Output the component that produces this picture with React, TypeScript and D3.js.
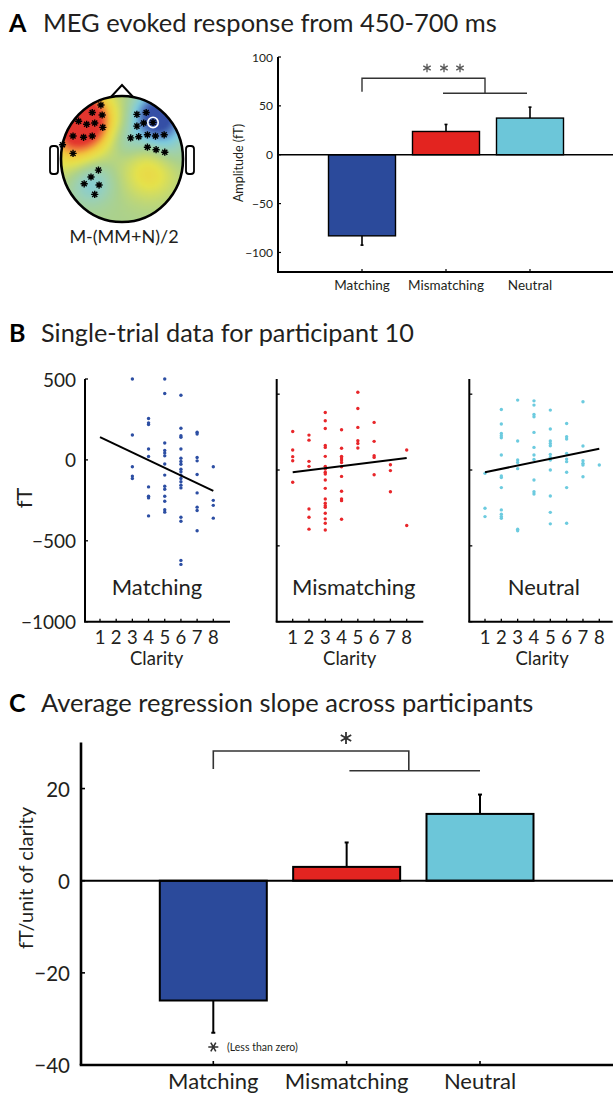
import React from 'react';
import * as d3 from 'd3';

// ---- shared categories and colours ----
const conditions = ['Matching', 'Mismatching', 'Neutral'];
const barColors = ['#2b4a9b', '#e32420', '#6cc6d9'];
const dotColors = ['#2c4ea3', '#e8262a', '#6ccbdf'];

// ---- panel A: evoked amplitude, 450-700 ms (fT) ----
const ampMean = [-83, 23.8, 37.5];
const ampErr = [9.5, 7.2, 11.2];
const ampTicks = [-100, -50, 0, 50, 100];

// sensor locations on the scalp map, in head-radius units (x right, y down)
const sensors: [number, number][] = [
  [-0.34, -0.87], [-0.48, -0.75], [-0.32, -0.71], [-0.7, -0.61], [-0.57, -0.56],
  [-0.44, -0.58], [-0.31, -0.51], [-0.79, -0.37], [-0.62, -0.35], [-0.48, -0.37],
  [-0.96, -0.23], [-0.79, -0.09],
  [0.24, -0.72], [0.39, -0.75], [0.24, -0.53], [0.35, -0.58], [0.5, -0.59],
  [0.14, -0.34], [0.27, -0.36], [0.41, -0.39], [0.54, -0.37], [0.68, -0.39],
  [0.41, -0.19], [0.55, -0.15], [0.69, -0.11],
  [-0.38, 0.18], [-0.5, 0.29], [-0.61, 0.4], [-0.37, 0.42], [-0.44, 0.57],
];
const highlightedSensor = 16;

// field sources for the difference topography: [x, y, amplitude, spread]
const topoSources: [number, number, number, number][] = [
  [-0.66, -0.62, 1.6, 0.33],
  [-0.85, -0.05, 0.25, 0.3],
  [0.58, -0.68, -1.3, 0.25],
  [0.1, -0.3, -0.22, 0.2],
  [0.75, -0.2, -0.2, 0.25],
  [-0.5, 0.38, -0.38, 0.24],
  [0.45, 0.22, 0.4, 0.3],
];
const topoStops = [-1, -0.7, -0.42, -0.18, 0, 0.3, 0.55, 0.78, 1];
const topoColors = ['#3450a6', '#5a86c6', '#7ccbe0', '#9bd0b4', '#abd18c', '#e4e24c', '#f2c93c', '#ee7c3a', '#e2352f'];

// ---- panel B: single trials for participant 10, per clarity level 1..8 ----
const clarityLevels = [1, 2, 3, 4, 5, 6, 7, 8];
const matchingTrials: number[][] = [
  [], [],
  [500, 154, -42, -100, -115],
  [256, 229, 219, 67, 21, -167, -225, -235, -346],
  [500, 410, 104, 58, 42, 25, -25, -94, -163, -181, -225, -256, -308, -323],
  [400, 196, 150, 140, 67, 10, -10, -27, -58, -73, -94, -115, -135, -156, -173, -354, -379, -621, -646],
  [171, 160, 15, -6, -90, -204, -292, -313, -438],
  [-42, -250, -281, -360],
];
const mismatchingTrials: number[][] = [
  [254, 132, 88, 61, -81],
  [230, 197, 57, 24, -257, -311, -390],
  [379, 325, 274, 162, 149, 90, 24, 7, -15, -26, -66, -121, -191, -219, -235, -246, -285, -322, -351, -395],
  [265, 143, 90, 79, 66, 50, 22, -42, -140, -191, -202, -325],
  [513, 406, 281, 193, 175, 145],
  [314, 189, 94, 83, -31],
  [35, -4, -143],
  [132, -366],
];
const neutralTrials: number[][] = [
  [-22, -252, -307],
  [399, 303, 241, 226, 213, 99, -39, -50, -116, -263, -292, -307, -318],
  [461, 191, 66, 50, 9, -390, -401],
  [456, 428, 366, 351, 248, 149, 99, 70, -66, -143, -158],
  [395, 270, 191, 175, 160, 103, 83, 66, 0, -171, -279, -355],
  [307, 219, 204, 110, 72, 55, -15, -116, -351],
  [450, 158, 61, 44, 33, -44],
  [33],
];
const trialSets = [matchingTrials, mismatchingTrials, neutralTrials];
// fitted regression line, value at clarity 1 and clarity 8
const fitAtClarity1 = [141, -15, -15];
const fitAtClarity8 = [-191, 79, 140];
const scatterTicks = [-1000, -500, 0, 500];
const scatterTop = [500, 600, 600];

// ---- panel C: regression slope across participants ----
const slopeMean = [-26, 3.0, 14.5];
const slopeErr = [7, 5.3, 4.2];
const slopeTicks = [-40, -20, 0, 20];

const FONT = "Lato, 'Open Sans', sans-serif";
const INK = '#231f20';

function asterisk(cx: number, cy: number, r: number, arms: number, offset = 0) {
  const path = d3.path();
  for (let i = 0; i < arms / 2; i++) {
    const a = offset + (Math.PI * 2 * i) / arms;
    path.moveTo(cx - r * Math.cos(a), cy - r * Math.sin(a));
    path.lineTo(cx + r * Math.cos(a), cy + r * Math.sin(a));
  }
  return path.toString();
}

function HeadMap() {
  const cx = 122, cy = 159, rx = 61, ry = 63;
  const color = d3.scaleLinear<string>().domain(topoStops).range(topoColors).interpolate(d3.interpolateRgb).clamp(true);
  const cell = 2;
  const cells: { x: number; y: number; c: string }[] = [];
  for (let y = cy - ry - 4; y < cy + ry + 4; y += cell) {
    for (let x = cx - rx - 4; x < cx + rx + 4; x += cell) {
      const u = (x + cell / 2 - cx) / 62;
      const v = (y + cell / 2 - cy) / 62;
      let val = 0;
      for (const [sx, sy, a, s] of topoSources) {
        const d2 = (u - sx) ** 2 + (v - sy) ** 2;
        val += a * Math.exp(-d2 / (2 * s * s));
      }
      cells.push({ x, y, c: color(val) });
    }
  }
  return (
    <g>
      <defs>
        <clipPath id="headClip">
          <ellipse cx={cx} cy={cy} rx={rx} ry={ry} />
        </clipPath>
        <filter id="soft" x="-10%" y="-10%" width="120%" height="120%">
          <feGaussianBlur stdDeviation="1.6" />
        </filter>
      </defs>
      {/* nose */}
      <path d={`M${cx - 12},${cy - ry + 2} L${cx},${cy - ry - 11} L${cx + 12},${cy - ry + 2}`} fill="white" stroke="black" strokeWidth={2} strokeLinejoin="miter" />
      {/* ears */}
      <rect x={cx - rx - 11} y={cy - 13} width={8} height={28} rx={3} fill="white" stroke="black" strokeWidth={1.8} />
      <rect x={cx + rx + 3} y={cy - 13} width={8} height={28} rx={3} fill="white" stroke="black" strokeWidth={1.8} />
      <g clipPath="url(#headClip)">
        <g filter="url(#soft)">
          {cells.map((d, i) => (
            <rect key={i} x={d.x} y={d.y} width={cell + 0.3} height={cell + 0.3} fill={d.c} />
          ))}
        </g>
      </g>
      <ellipse cx={cx} cy={cy} rx={rx} ry={ry} fill="none" stroke="black" strokeWidth={2.6} />
      {sensors.map(([u, v], i) => (
        <path key={i} d={asterisk(cx + u * 62, cy + v * 62, 3.6, 8)} stroke="black" strokeWidth={1.4} fill="none" />
      ))}
      <circle cx={cx + sensors[highlightedSensor][0] * 62} cy={cy + sensors[highlightedSensor][1] * 62} r={5.2} fill="none" stroke="white" strokeWidth={1.6} />
      <text x={cx + 2} y={236} fontSize={18} textAnchor="middle" dominantBaseline="central" fill={INK} fontFamily={FONT}>M-(MM+N)/2</text>
    </g>
  );
}

function PanelA() {
  const y = d3.scaleLinear().domain([-120, 100]).range([272, 57]);
  const x = d3.scalePoint<string>().domain(conditions).range([362, 530]);
  const axisX = 278;
  const bw = 67;
  return (
    <g fontFamily={FONT} fill={INK}>
      {conditions.map((c, i) => {
        const v = ampMean[i];
        const e = v + Math.sign(v) * ampErr[i];
        const xc = x(c)!;
        return (
          <g key={c}>
            <line x1={xc} x2={xc} y1={y(v)} y2={y(e)} stroke="black" strokeWidth={1.6} />
            <line x1={xc - 1.5} x2={xc + 1.5} y1={y(e)} y2={y(e)} stroke="black" strokeWidth={1.6} />
            <rect x={xc - bw / 2} y={y(Math.max(0, v))} width={bw} height={Math.abs(y(v) - y(0))} fill={barColors[i]} stroke="black" strokeWidth={1.4} />
          </g>
        );
      })}
      <line x1={axisX} x2={613} y1={y(0)} y2={y(0)} stroke="black" strokeWidth={1.3} />
      <line x1={axisX} x2={axisX} y1={y(100)} y2={y(-120)} stroke="black" strokeWidth={2} />
      <line x1={axisX - 1} x2={613} y1={y(-120)} y2={y(-120)} stroke="black" strokeWidth={2} />
      {ampTicks.map((t) => (
        <g key={t}>
          <line x1={axisX} x2={axisX + 3} y1={y(t)} y2={y(t)} stroke="black" strokeWidth={1.2} />
          <text x={273} y={y(t)} fontSize={12} textAnchor="end" dominantBaseline="central">{t < 0 ? `\u2212${-t}` : t}</text>
        </g>
      ))}
      {conditions.map((c) => (
        <g key={c}>
          <line x1={x(c)} x2={x(c)} y1={y(-120)} y2={y(-120) - 3} stroke="black" strokeWidth={1.2} />
          <text x={x(c)} y={285} fontSize={13.5} textAnchor="middle" dominantBaseline="central">{c}</text>
        </g>
      ))}
      <text transform={`translate(238,163) rotate(-90)`} fontSize={12.5} textAnchor="middle" dominantBaseline="central">Amplitude (fT)</text>
      {/* significance bracket */}
      <path d={`M362,91.7 V78.3 H485 V93.3`} fill="none" stroke="#333" strokeWidth={1.4} />
      <line x1={443} x2={527} y1={93.3} y2={93.3} stroke="#333" strokeWidth={1.4} />
      {[427, 444, 460].map((sx) => (
        <path key={sx} d={asterisk(sx, 68, 4.3, 6, Math.PI / 2)} stroke="#555" strokeWidth={1.3} fill="none" />
      ))}
    </g>
  );
}

const scatterFrames = [
  { axisX: 85, x1: 100, x8: 213.3, end: 230, label: 157 },
  { axisX: 276.7, x1: 292.7, x8: 406.7, end: 423.3, label: 353.7 },
  { axisX: 469.3, x1: 485, x8: 599.3, end: 612.7, label: 543.8 },
];

function PanelB() {
  const top = 379, bottom = 621.7;
  return (
    <g fontFamily={FONT} fill={INK}>
      {scatterFrames.map((f, k) => {
        const x = d3.scaleLinear().domain([1, 8]).range([f.x1, f.x8]);
        const y = d3.scaleLinear().domain([-1000, scatterTop[k]]).range([bottom, top]);
        const pts: [number, number][] = [];
        trialSets[k].forEach((vals, ci) => vals.forEach((v) => pts.push([clarityLevels[ci], v])));
        const fit = d3.line<[number, number]>().x((d) => x(d[0])).y((d) => y(d[1]));
        return (
          <g key={k}>
            {pts.map(([c, v], i) => (
              <circle key={i} cx={x(c)} cy={y(v)} r={1.7} fill={dotColors[k]} />
            ))}
            <path d={fit([[1, fitAtClarity1[k]], [8, fitAtClarity8[k]]])!} stroke="black" strokeWidth={2} fill="none" />
            <line x1={f.axisX} x2={f.axisX} y1={top} y2={bottom} stroke="black" strokeWidth={2} />
            <line x1={f.axisX - 1} x2={f.end} y1={bottom} y2={bottom} stroke="black" strokeWidth={2} />
            {scatterTicks.map((t) => (
              <g key={t}>
                <line x1={f.axisX} x2={f.axisX + 3} y1={y(t)} y2={y(t)} stroke="black" strokeWidth={1.3} />
                {k === 0 && (
                  <text x={76} y={y(t)} fontSize={19} textAnchor="end" dominantBaseline="central">{t < 0 ? `\u2212${-t}` : t}</text>
                )}
              </g>
            ))}
            {clarityLevels.map((c) => (
              <g key={c}>
                <line x1={x(c)} x2={x(c)} y1={bottom} y2={bottom - 3} stroke="black" strokeWidth={1.3} />
                <text x={x(c)} y={637} fontSize={18.5} textAnchor="middle" dominantBaseline="central">{c}</text>
              </g>
            ))}
            <text x={(f.x1 + f.x8) / 2} y={658} fontSize={18.5} textAnchor="middle" dominantBaseline="central">Clarity</text>
            <text x={f.label} y={586} fontSize={22} textAnchor="middle" dominantBaseline="central">{conditions[k]}</text>
          </g>
        );
      })}
      <text transform="translate(23,498) rotate(-90)" fontSize={22} textAnchor="middle" dominantBaseline="central">fT</text>
    </g>
  );
}

function PanelC() {
  const y = d3.scaleLinear().domain([-40, 30]).range([1065, 742.5]);
  const x = d3.scalePoint<string>().domain(conditions).range([213.3, 480]);
  const axisX = 81;
  const bw = 107;
  return (
    <g fontFamily={FONT} fill={INK}>
      {conditions.map((c, i) => {
        const v = slopeMean[i];
        const e = v + Math.sign(v) * slopeErr[i];
        const xc = x(c)!;
        return (
          <g key={c}>
            <line x1={xc} x2={xc} y1={y(v)} y2={y(e)} stroke="black" strokeWidth={2} />
            <line x1={xc - 2} x2={xc + 2} y1={y(e)} y2={y(e)} stroke="black" strokeWidth={2} />
            <rect x={xc - bw / 2} y={y(Math.max(0, v))} width={bw} height={Math.abs(y(v) - y(0))} fill={barColors[i]} stroke="black" strokeWidth={2} />
          </g>
        );
      })}
      <line x1={axisX} x2={613} y1={y(0)} y2={y(0)} stroke="black" strokeWidth={2} />
      <line x1={axisX} x2={axisX} y1={y(30)} y2={y(-40)} stroke="black" strokeWidth={2.6} />
      <line x1={axisX - 1.3} x2={613} y1={y(-40)} y2={y(-40)} stroke="black" strokeWidth={2.6} />
      {slopeTicks.map((t) => (
        <g key={t}>
          <line x1={axisX} x2={axisX + 4} y1={y(t)} y2={y(t)} stroke="black" strokeWidth={1.6} />
          <text x={70} y={y(t)} fontSize={20.5} textAnchor="end" dominantBaseline="central">{t < 0 ? `\u2212${-t}` : t}</text>
        </g>
      ))}
      {conditions.map((c) => (
        <g key={c}>
          <line x1={x(c)} x2={x(c)} y1={y(-40)} y2={y(-40) - 4} stroke="black" strokeWidth={1.6} />
          <text x={x(c)} y={1089} fontSize={22} textAnchor="middle">{c}</text>
        </g>
      ))}
      <text transform="translate(25,878) rotate(-90)" fontSize={20} textAnchor="middle" dominantBaseline="central">fT/unit of clarity</text>
      {/* significance bracket */}
      <path d={`M213.3,769 V751 H408.8 V770.7`} fill="none" stroke="#333" strokeWidth={1.6} />
      <line x1={349.4} x2={480} y1={770.7} y2={770.7} stroke="#333" strokeWidth={1.6} />
      <path d={asterisk(346, 738, 6, 6, Math.PI / 2)} stroke="#333" strokeWidth={1.8} fill="none" />
      <path d={asterisk(213.3, 1047, 5, 6, 0)} stroke="#333" strokeWidth={1.6} fill="none" />
      <text x={227} y={1047} fontSize={10.5} dominantBaseline="central">(Less than zero)</text>
    </g>
  );
}

export default function App() {
  return (
    <svg width={613} height={1094} viewBox="0 0 613 1094" style={{ position: 'absolute', left: 0, top: 0, background: 'white' }}>
      <rect width={613} height={1094} fill="white" />
      <g fontFamily={FONT} fill={INK}>
        <text x={9} y={31.7} fontSize={25} fontWeight="bold" fill="black">A</text>
        <text x={43} y={31.7} fontSize={25.5}>MEG evoked response from 450-700 ms</text>
        <text x={9} y={341.7} fontSize={25} fontWeight="bold" fill="black">B</text>
        <text x={41} y={341.7} fontSize={25.3}>Single-trial data for participant 10</text>
        <text x={9} y={712} fontSize={25} fontWeight="bold" fill="black">C</text>
        <text x={41} y={712} fontSize={25.5}>Average regression slope across participants</text>
      </g>
      <HeadMap />
      <PanelA />
      <PanelB />
      <PanelC />
    </svg>
  );
}
